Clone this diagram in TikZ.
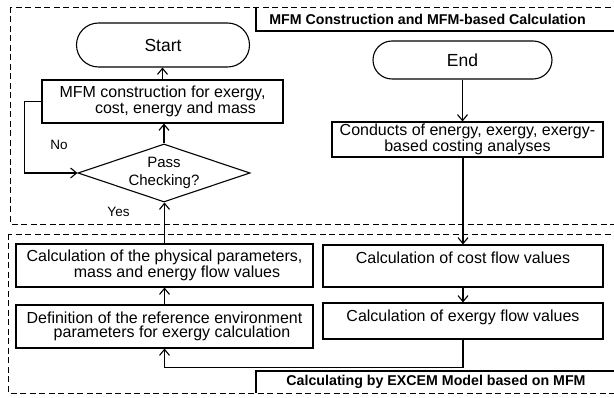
\documentclass[tikz,border=0pt]{standalone}
\usepackage{fontspec}
\setmainfont{Liberation Sans}
\usetikzlibrary{shapes.misc,shapes.geometric,arrows.meta,positioning,calc}

\tikzset{
  procbox/.style={draw, line width=1.1pt, rectangle, inner sep=0pt, align=center,
    font=\fontsize{16}{14.5}\selectfont},
  termbox/.style={draw, line width=1.1pt, rounded rectangle, inner sep=0pt,
    font=\fontsize{17.5}{20}\selectfont},
  decbox/.style={draw, line width=1.1pt, diamond, shape aspect=3, inner sep=0pt,
    align=center, font=\fontsize{15}{18}\selectfont},
  flow/.style={line width=1.1pt, -{Straight Barb[length=6pt,width=10pt]}},
  groupbox/.style={dash pattern=on 6pt off 3.5pt, line width=0.9pt},
  grouptitle/.style={font=\bfseries\fontsize{14.2}{16}\selectfont, inner sep=0pt},
  branch/.style={font=\fontsize{13.5}{15}\selectfont, inner sep=0pt}
}

\begin{document}
\begin{tikzpicture}[x=1pt,y=-1pt]
    \useasboundingbox (0,0) rectangle (614,398);
    \clip (0,0) rectangle (614,398);

    % Group frames
    \draw[groupbox] (10,7) rectangle (630,224);
    \draw[groupbox] (8,234) rectangle (630,393);
    \node[grouptitle] (topTitle) at (427.5,19) {MFM Construction and MFM-based Calculation};
    \draw[line width=1.1pt] (256,7) -- (256,31) -- (630,31);
    \node[grouptitle] (botTitle) at (436,382) {Calculating by EXCEM Model based on MFM};
    \draw[line width=1.1pt] (256,393) -- (256,371) -- (630,371);

    % Left column
    \node[termbox, minimum width=173pt, minimum height=44pt] (start) at (163,45) {Start};
    \node[procbox, minimum width=241pt, minimum height=43pt] (mfm) at (162.5,101.5)
        {MFM construction for exergy,\\\hspace*{26pt}cost, energy and mass};
    \node[decbox, minimum width=172pt, minimum height=58pt] (check) at (164,173) {Pass\\Checking?};
    \node[procbox, minimum width=297pt, minimum height=43pt] (phys) at (164.5,265.5)
        {Calculation of the physical parameters,\\\hspace*{25pt}mass and energy flow values};
    \node[procbox, minimum width=297pt, minimum height=43pt] (refenv) at (164.5,326.5)
        {Definition of the reference environment\\\hspace*{15pt}parameters for exergy calculation};

    % Right column
    \node[termbox, minimum width=179pt, minimum height=38pt] (stop) at (462.5,60) {End};
    \node[procbox, minimum width=271pt, minimum height=35pt] (conducts) at (467.5,139.5)
        {Conducts of energy, exergy, exergy-\\based costing analyses};
    \node[procbox, minimum width=280pt, minimum height=42pt, text height=12pt, text depth=16pt]
        (cost) at (463,266) {Calculation of cost flow values};
    \node[procbox, minimum width=280pt, minimum height=36pt, text height=12pt, text depth=10pt]
        (exergy) at (463,321) {Calculation of exergy flow values};

    % Branch labels
    \node[branch] (no) at (59,145) {No};
    \node[branch] (yes) at (118.5,212) {Yes};

    % Connectors
    \draw[flow] (mfm.north) -- (mfm.north |- start.south);
    \draw[flow] (check.north) -- (check.north |- mfm.south);
    \draw[flow] (phys.north) -- (phys.north |- check.south);
    \draw[flow] (refenv) -- (phys);
    \draw[flow] (mfm.west) -- ++(-17,0) |- (check.west);
    \draw[flow] (exergy.south) -- ++(0,28) -| (refenv.south);
    \draw[flow] (stop.south) -- (stop.south |- conducts.north);
    \draw[flow] (conducts.south -| cost.north) -- (cost.north);
    \draw[flow] (cost) -- (exergy);
\end{tikzpicture}
\end{document}
